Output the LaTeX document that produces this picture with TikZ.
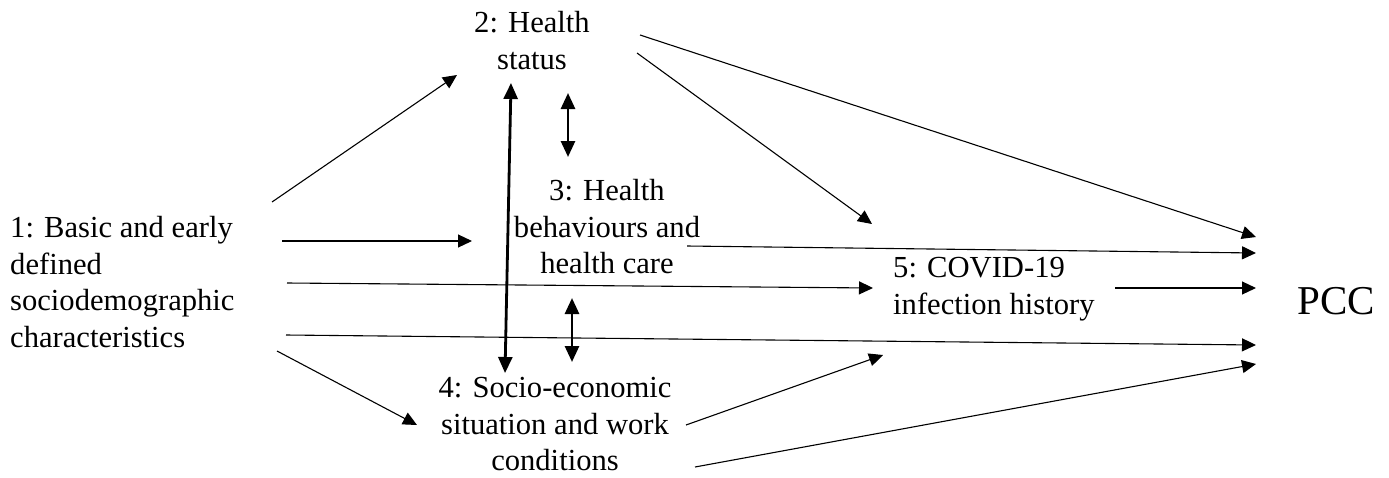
\documentclass[tikz,border=0pt]{standalone}
\usepackage{fontspec}
\setmainfont{Liberation Serif}
\usetikzlibrary{arrows.meta}
\begin{document}
\begin{tikzpicture}[x=1pt,y=-1pt,
  lbl/.style={inner sep=0pt,font=\fontsize{30.6}{36.7}\selectfont},
  thin/.style={line width=1.1pt,-{Triangle[length=14pt,width=13pt]}},
  thickdbl/.style={line width=2.8pt,{Triangle[length=16pt,width=14pt]}-{Triangle[length=16pt,width=14pt]}}]
\useasboundingbox (0,0) rectangle (1389,477);
% nodes
\node[lbl,anchor=north west,align=left] (n1) at (10,216) {1: Basic and early\\defined\\sociodemographic\\characteristics};
\node[lbl,anchor=north,align=center] (n2) at (532,11) {2: Health\\status};
\node[lbl,anchor=north,align=center] (n3) at (607,179) {3: Health\\behaviours and\\health care};
\node[lbl,anchor=north,align=center] (n4) at (555,377) {4: Socio-economic\\situation and work\\conditions};
\node[lbl,anchor=north west,align=left] (n5) at (893,257) {5: COVID-19\\infection history};
\node[inner sep=0pt,anchor=base west,font=\fontsize{41}{48}\selectfont] (pcc) at (1297,314) {PCC};
% connector end points
\coordinate (s12) at (272,202); \coordinate (e12) at (457,75);
\coordinate (s13) at (282,241); \coordinate (e13) at (472,241);
\coordinate (s15) at (287,283); \coordinate (e15) at (873,288);
\coordinate (s1p) at (286,335); \coordinate (e1p) at (1256,345);
\coordinate (s14) at (277,351); \coordinate (e14) at (417,425);
\coordinate (s2p) at (640,35);  \coordinate (e2p) at (1256,237);
\coordinate (s25) at (637,53);  \coordinate (e25) at (872,224);
\coordinate (s3p) at (687,246); \coordinate (e3p) at (1256,253);
\coordinate (s5p) at (1115,288);\coordinate (e5p) at (1256,288);
\coordinate (s45) at (686,425); \coordinate (e45) at (883,355);
\coordinate (s4p) at (695,467); \coordinate (e4p) at (1256,364);
\coordinate (t24) at (511,83);  \coordinate (b24) at (505,373);
\coordinate (t23) at (568,93);  \coordinate (b23) at (568,157);
\coordinate (t34) at (572,298); \coordinate (b34) at (572,362);
% connectors
\draw[thin] (s12) -- (e12);
\draw[thin] (s13) -- (e13);
\draw[thin] (s15) -- (e15);
\draw[thin] (s1p) -- (e1p);
\draw[thin] (s14) -- (e14);
\draw[thin] (s2p) -- (e2p);
\draw[thin] (s25) -- (e25);
\draw[thin] (s3p) -- (e3p);
\draw[thin] (s5p) -- (e5p);
\draw[thin] (s45) -- (e45);
\draw[thin] (s4p) -- (e4p);
\draw[thickdbl] (t24) -- (b24);
\draw[thickdbl] (t23) -- (b23);
\draw[thickdbl] (t34) -- (b34);
\end{tikzpicture}
\end{document}
